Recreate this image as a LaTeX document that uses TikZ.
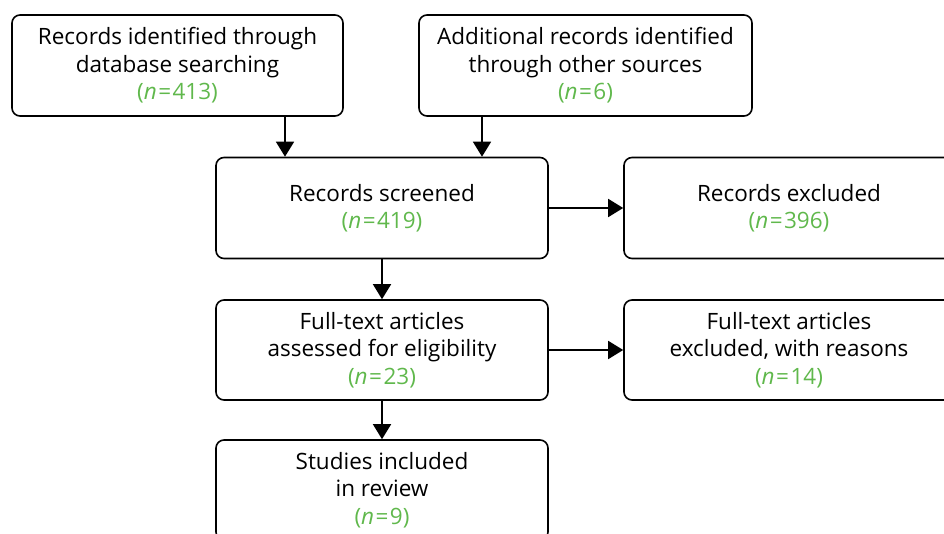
\documentclass[tikz,border=0pt]{standalone}
\usepackage{fontspec}
\setmainfont{Open Sans}
\usetikzlibrary{arrows.meta}
\definecolor{ngreen}{RGB}{96,184,76}
\tikzset{
  flowbox/.style={draw, line width=1.6pt, rounded corners=8pt, align=center,
    inner sep=0pt, font=\fontsize{22.5}{27.5}\selectfont},
  arr/.style={line width=1.6pt, -{Triangle[length=15pt,width=18pt]}},
}
\newcommand{\cnt}[1]{\textcolor{ngreen}{(\textit{n}\kern1.5pt=\kern1.5pt#1)}}
\begin{document}
\begin{tikzpicture}[x=1pt,y=-1pt]
\useasboundingbox (0,0) rectangle (944,534);
\clip (0,0) rectangle (944,534);

\node[flowbox, minimum width=331pt, minimum height=101pt] (n1) at (177.5,65.5)
  {Records identified through\\database searching\\\cnt{413}};
\node[flowbox, minimum width=333pt, minimum height=101pt] (n2) at (585.5,65.5)
  {Additional records identified\\through other sources\\\cnt{6}};
\node[flowbox, minimum width=332pt, minimum height=101pt] (n3) at (382,208)
  {Records screened\\\cnt{419}};
\node[flowbox, minimum width=330pt, minimum height=101pt] (n4) at (789,208)
  {Records excluded\\\cnt{396}};
\node[flowbox, minimum width=332pt, minimum height=100pt] (n5) at (382,350)
  {Full-text articles\\assessed for eligibility\\\cnt{23}};
\node[flowbox, minimum width=330pt, minimum height=100pt] (n6) at (789,350)
  {Full-text articles\\excluded, with reasons\\\cnt{14}};
\node[flowbox, minimum width=332pt, minimum height=100pt] (n7) at (382,490)
  {Studies included\\in review\\\cnt{9}};

\coordinate (c1) at (285,0);
\coordinate (c2) at (482,0);
\draw[arr] (n1.south -| c1) -- (n3.north -| c1);
\draw[arr] (n2.south -| c2) -- (n3.north -| c2);
\draw[arr] (n3.east) -- (n4.west);
\draw[arr] (n3.south) -- (n5.north);
\draw[arr] (n5.east) -- (n6.west);
\draw[arr] (n5.south) -- (n7.north);
\end{tikzpicture}
\end{document}
